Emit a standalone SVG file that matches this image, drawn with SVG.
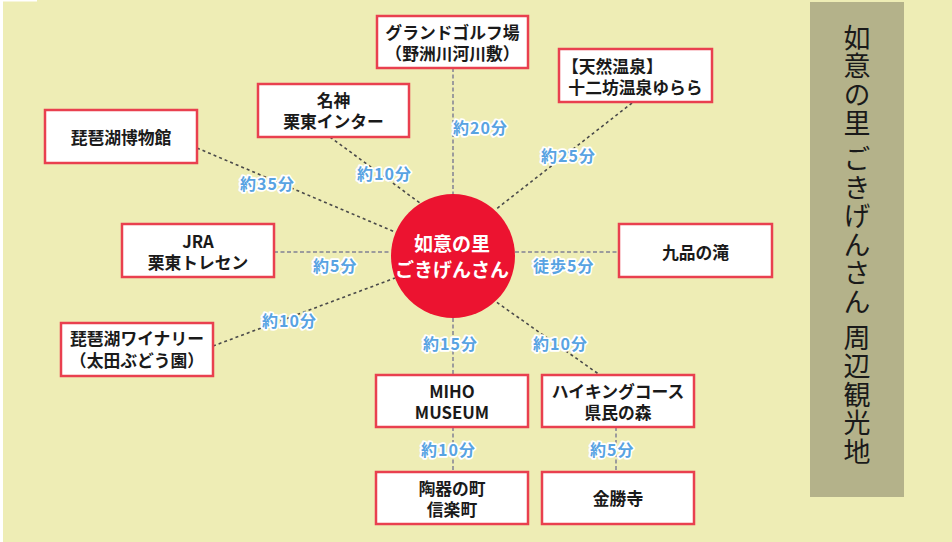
<svg xmlns="http://www.w3.org/2000/svg" width="952" height="542" viewBox="0 0 952 542">
<style>
.box rect{fill:#fff;stroke:#E9404F;stroke-width:2.5}
.box text{font-family:"Noto Sans CJK JP","Noto Sans",sans-serif;font-weight:bold;font-size:16.8px;fill:#1a1a1a;text-anchor:middle;dominant-baseline:central}
.lbl{font-family:"Noto Sans CJK JP","Noto Sans",sans-serif;font-weight:bold;font-size:16px;fill:#58A3E2;letter-spacing:1px;dominant-baseline:central;stroke:#fff;stroke-width:3.5;stroke-linejoin:round;paint-order:stroke}
.dk{stroke:#4a4a4a;stroke-width:1.6;stroke-dasharray:3 3;fill:none}
.lt{stroke:#9c9c9c;stroke-width:2;stroke-dasharray:4 2.5;fill:none}
</style>
<rect x="0" y="0" width="952" height="542" fill="#fff"/>
<rect x="3" y="0" width="949" height="542" fill="#EEEDB5"/>
<rect x="3" y="0" width="34" height="1.5" fill="#fff"/>
<rect x="810" y="2" width="94" height="495" fill="#B4B28A"/>
<text x="857" y="24" writing-mode="vertical-rl" font-family="Noto Sans CJK JP, sans-serif" font-size="27" letter-spacing="1.5" fill="#1a1a1a">如意の里 ごきげんさん 周辺観光地</text>

<g id="connectors">
<line class="lt" x1="453" y1="68" x2="453" y2="194"/>
<line class="dk" x1="632" y1="103" x2="495" y2="210"/>
<line class="dk" x1="330" y1="137" x2="420" y2="203"/>
<line class="dk" x1="197" y1="148" x2="395" y2="232"/>
<line class="lt" x1="274" y1="252" x2="391" y2="252"/>
<line class="dk" x1="213" y1="346" x2="395" y2="278"/>
<line class="lt" x1="515" y1="252" x2="619" y2="252"/>
<line class="lt" x1="453" y1="318" x2="453" y2="375"/>
<line class="dk" x1="492" y1="299" x2="600" y2="375"/>
<line class="lt" x1="453" y1="427" x2="453" y2="472"/>
<line class="lt" x1="616" y1="427" x2="616" y2="472"/>
</g>

<g id="labels">
<text class="lbl" x="453" y="127">約20分</text>
<text class="lbl" x="541" y="155">約25分</text>
<text class="lbl" x="357" y="173">約10分</text>
<text class="lbl" x="240" y="183">約35分</text>
<text class="lbl" x="313" y="265">約5分</text>
<text class="lbl" x="262" y="320">約10分</text>
<text class="lbl" x="533" y="265">徒歩5分</text>
<text class="lbl" x="423" y="343">約15分</text>
<text class="lbl" x="533" y="343">約10分</text>
<text class="lbl" x="421" y="449">約10分</text>
<text class="lbl" x="590" y="449">約5分</text>
</g>

<g id="center">
<circle cx="453" cy="256" r="62" fill="#EC1330"/>
<text font-family="Noto Sans CJK JP, sans-serif" font-weight="bold" font-size="19" fill="#fff" text-anchor="middle" dominant-baseline="central"><tspan x="452" y="242">如意の里</tspan><tspan x="452" y="268">ごきげんさん</tspan></text>
</g>

<g id="golf" class="box"><rect x="377" y="16" width="151" height="52"/><text><tspan x="452.5" y="32">グランドゴルフ場</tspan><tspan x="452.5" y="53">（野洲川河川敷）</tspan></text></g>
<g id="yurara" class="box"><rect x="559" y="49" width="153" height="53"/><text><tspan x="562" y="66" style="text-anchor:start">【天然温泉】</tspan><tspan x="635.5" y="87">十二坊温泉ゆらら</tspan></text></g>
<g id="meishin" class="box"><rect x="258" y="84" width="151" height="53"/><text><tspan x="333.5" y="100">名神</tspan><tspan x="333.5" y="121">栗東インター</tspan></text></g>
<g id="biwako-museum" class="box"><rect x="45" y="110" width="152" height="53"/><text x="121" y="137">琵琶湖博物館</text></g>
<g id="jra" class="box"><rect x="122" y="224" width="152" height="53"/><text><tspan x="198" y="241">JRA</tspan><tspan x="198" y="262">栗東トレセン</tspan></text></g>
<g id="winery" class="box"><rect x="61" y="323" width="152" height="53"/><text><tspan x="137" y="338">琵琶湖ワイナリー</tspan><tspan x="137" y="360">（太田ぶどう園）</tspan></text></g>
<g id="kuhon" class="box"><rect x="619" y="224" width="153" height="53"/><text x="695.5" y="252">九品の滝</text></g>
<g id="miho" class="box"><rect x="376" y="375" width="152" height="52"/><text><tspan x="452" y="391">MIHO</tspan><tspan x="452" y="412">MUSEUM</tspan></text></g>
<g id="hiking" class="box"><rect x="542" y="375" width="152" height="52"/><text><tspan x="618" y="391">ハイキングコース</tspan><tspan x="618" y="412">県民の森</tspan></text></g>
<g id="shigaraki" class="box"><rect x="376" y="472" width="152" height="52"/><text><tspan x="452" y="488">陶器の町</tspan><tspan x="452" y="509">信楽町</tspan></text></g>
<g id="konshoji" class="box"><rect x="542" y="472" width="152" height="52"/><text x="618" y="498">金勝寺</text></g>
</svg>
